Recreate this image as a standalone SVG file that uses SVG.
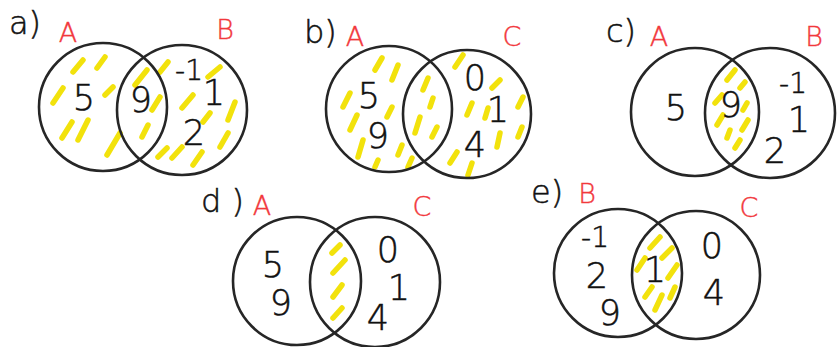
<svg xmlns="http://www.w3.org/2000/svg" width="837" height="347" viewBox="0 0 837 347">
<style>
.c{fill:none;stroke:#262626;stroke-width:2.6}
.h{stroke:#f2e20c;stroke-width:5.5;stroke-linecap:round}
.n{font-family:"DejaVu Sans","Liberation Sans",sans-serif;font-weight:200;font-size:35px;fill:#111111;stroke:#111111;stroke-width:0.5;text-anchor:middle}
.s{font-size:28px}
.t{font-family:"DejaVu Sans","Liberation Sans",sans-serif;font-weight:200;font-size:32px;fill:#111111;stroke:#111111;stroke-width:0.5}
.r{font-family:"DejaVu Sans","Liberation Sans",sans-serif;font-weight:200;font-size:27px;fill:#f2383c;stroke:#f2383c;stroke-width:0.4;text-anchor:middle}
</style>
<rect width="837" height="347" fill="#ffffff"/>
<g id="diagram-a">
<g class="h">
<line x1="73" y1="72" x2="83" y2="60"/><line x1="97" y1="68" x2="105" y2="57"/><line x1="53" y1="103" x2="63" y2="88"/><line x1="105" y1="95" x2="113" y2="87"/><line x1="62" y1="138" x2="72" y2="122"/><line x1="78" y1="140" x2="88" y2="120"/><line x1="107" y1="155" x2="120" y2="133"/><line x1="135" y1="85" x2="147" y2="70"/><line x1="160" y1="72" x2="168" y2="62"/><line x1="152" y1="110" x2="160" y2="97"/><line x1="142" y1="137" x2="148" y2="125"/><line x1="182" y1="108" x2="193" y2="95"/><line x1="208" y1="77" x2="220" y2="67"/><line x1="228" y1="120" x2="235" y2="102"/><line x1="203" y1="122" x2="210" y2="113"/><line x1="220" y1="147" x2="228" y2="133"/><line x1="158" y1="157" x2="167" y2="148"/><line x1="172" y1="158" x2="182" y2="147"/><line x1="193" y1="165" x2="202" y2="152"/>
</g>
<circle class="c" cx="103" cy="107" r="64"/>
<circle class="c" cx="182" cy="110" r="65"/>
<text class="t" x="9" y="34">a)</text>
<text class="r" x="68" y="42">A</text>
<text class="r" x="225" y="39">B</text>
<text class="n" x="84" y="110">5</text>
<text class="n" x="141" y="112">9</text>
<text class="n s" x="189" y="80">-1</text>
<text class="n" x="214" y="105">1</text>
<text class="n" x="194" y="145">2</text>
</g>
<g id="diagram-b">
<g class="h">
<line x1="375" y1="70" x2="382" y2="58"/><line x1="392" y1="80" x2="398" y2="65"/><line x1="343" y1="107" x2="350" y2="93"/><line x1="350" y1="130" x2="357" y2="115"/><line x1="387" y1="117" x2="392" y2="107"/><line x1="358" y1="157" x2="363" y2="140"/><line x1="375" y1="167" x2="378" y2="160"/><line x1="398" y1="155" x2="402" y2="145"/><line x1="408" y1="167" x2="412" y2="158"/><line x1="423" y1="90" x2="428" y2="78"/><line x1="430" y1="107" x2="433" y2="98"/><line x1="415" y1="133" x2="420" y2="117"/><line x1="432" y1="137" x2="437" y2="127"/><line x1="455" y1="67" x2="463" y2="55"/><line x1="467" y1="115" x2="472" y2="103"/><line x1="485" y1="118" x2="488" y2="108"/><line x1="492" y1="88" x2="500" y2="80"/><line x1="518" y1="107" x2="523" y2="97"/><line x1="518" y1="137" x2="522" y2="127"/><line x1="497" y1="147" x2="500" y2="133"/><line x1="450" y1="163" x2="457" y2="152"/><line x1="468" y1="175" x2="472" y2="163"/>
</g>
<circle class="c" cx="389" cy="109" r="63"/>
<circle class="c" cx="467" cy="114" r="64"/>
<text class="t" x="304" y="43">b)</text>
<text class="r" x="355" y="46">A</text>
<text class="r" x="512" y="46">C</text>
<text class="n" x="369" y="108">5</text>
<text class="n" x="378" y="148">9</text>
<text class="n" x="475" y="90">0</text>
<text class="n" x="498" y="122">1</text>
<text class="n" x="475" y="157">4</text>
</g>
<g id="diagram-c">
<g class="h">
<line x1="727" y1="80" x2="735" y2="70"/><line x1="740" y1="88" x2="745" y2="82"/><line x1="715" y1="103" x2="722" y2="95"/><line x1="743" y1="110" x2="747" y2="103"/><line x1="717" y1="125" x2="723" y2="115"/><line x1="742" y1="130" x2="748" y2="120"/><line x1="727" y1="138" x2="730" y2="130"/><line x1="735" y1="148" x2="740" y2="140"/>
</g>
<circle class="c" cx="695" cy="112" r="64"/>
<circle class="c" cx="770" cy="113" r="65"/>
<text class="t" x="606" y="42">c)</text>
<text class="r" x="659" y="46">A</text>
<text class="r" x="814" y="46">B</text>
<text class="n" x="676" y="120">5</text>
<text class="n" x="731" y="117">9</text>
<text class="n s" x="793" y="93">-1</text>
<text class="n" x="799" y="132">1</text>
<text class="n" x="775" y="163">2</text>
</g>
<g id="diagram-d">
<g class="h">
<line x1="332" y1="253" x2="340" y2="245"/><line x1="333" y1="273" x2="345" y2="260"/><line x1="333" y1="297" x2="342" y2="285"/><line x1="333" y1="318" x2="342" y2="308"/>
</g>
<circle class="c" cx="297" cy="281" r="64"/>
<circle class="c" cx="375" cy="282" r="65"/>
<text class="t" x="201" y="212">d )</text>
<text class="r" x="262" y="215">A</text>
<text class="r" x="422" y="216">C</text>
<text class="n" x="273" y="277">5</text>
<text class="n" x="281" y="315">9</text>
<text class="n" x="388" y="262">0</text>
<text class="n" x="399" y="300">1</text>
<text class="n" x="378" y="330">4</text>
</g>
<g id="diagram-e">
<g class="h">
<line x1="650" y1="248" x2="660" y2="237"/><line x1="662" y1="258" x2="672" y2="248"/><line x1="637" y1="270" x2="645" y2="258"/><line x1="668" y1="278" x2="677" y2="265"/><line x1="645" y1="297" x2="652" y2="287"/><line x1="670" y1="298" x2="675" y2="287"/><line x1="655" y1="310" x2="662" y2="295"/>
</g>
<circle class="c" cx="618" cy="273" r="64"/>
<circle class="c" cx="696" cy="275" r="64"/>
<text class="t" x="531" y="203">e)</text>
<text class="r" x="587" y="203">B</text>
<text class="r" x="749" y="217">C</text>
<text class="n s" x="595" y="247">-1</text>
<text class="n" x="597" y="288">2</text>
<text class="n" x="610" y="325">9</text>
<text class="n" x="655" y="282">1</text>
<text class="n" x="712" y="258">0</text>
<text class="n" x="714" y="305">4</text>
</g>
</svg>
